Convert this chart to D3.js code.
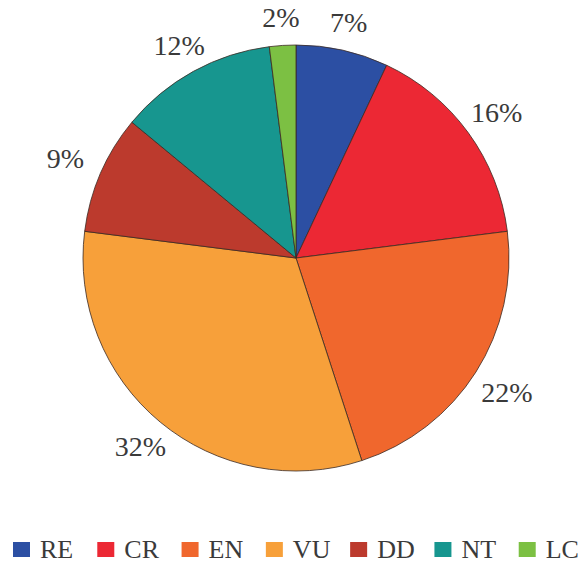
<!DOCTYPE html>
<html>
<head>
    <meta charset="UTF-8" />
    <script src="https://cdn.jsdelivr.net/npm/d3@7/dist/d3.min.js"></script>
    <style>
        body { margin: 0; background: #fff; }
        text { font-family: "Liberation Serif", "Times New Roman", serif; fill: #3a3a3a; }
    </style>
</head>
<body>
    <div id="chart"></div>
    <script>
        const categories = ["RE", "CR", "EN", "VU", "DD", "NT", "LC"];
        const shares = [7, 16, 22, 32, 9, 12, 2];
        const colors = ["#2c4fa3", "#ec2834", "#f0672d", "#f7a03a", "#bc3a2d", "#17968f", "#7cc043"];

        const width = 585, height = 565;
        const cx = 296, cy = 258, radius = 213;
        const labelGap = 18, labelSize = 28;

        const svg = d3.select("#chart").append("svg")
            .attr("width", width)
            .attr("height", height);

        const data = categories.map((c, i) => ({ cat: c, value: shares[i], color: colors[i] }));

        const pie = d3.pie().value(d => d.value).sort(null);
        const arc = d3.arc().innerRadius(0).outerRadius(radius);
        const arcs = pie(data);

        const g = svg.append("g").attr("transform", `translate(${cx},${cy})`);

        g.selectAll("path")
            .data(arcs)
            .join("path")
            .attr("d", arc)
            .attr("fill", d => d.data.color)
            .attr("stroke", "#3b2a22")
            .attr("stroke-width", 0.8)
            .attr("stroke-linejoin", "round");

        // labels sit just outside the rim; distance depends on the text box
        const labels = g.selectAll("text.pct")
            .data(arcs)
            .join("text")
            .attr("class", "pct")
            .attr("text-anchor", "middle")
            .attr("dy", "0.35em")
            .attr("font-size", labelSize)
            .text(d => d.data.value + "%");

        labels.attr("transform", function(d) {
            const a = (d.startAngle + d.endAngle) / 2;
            const hw = this.getComputedTextLength() / 2;
            const hh = labelSize * 0.36;
            const s = Math.abs(Math.sin(a)), c = Math.abs(Math.cos(a));
            const ext = Math.min(s > 1e-6 ? hw / s : Infinity, c > 1e-6 ? hh / c : Infinity);
            const dist = radius + labelGap + ext;
            return `translate(${Math.sin(a) * dist},${-Math.cos(a) * dist})`;
        });

        // legend
        const lx = d3.scaleBand().domain(categories).range([13, 603]);
        const legend = svg.append("g").attr("transform", "translate(0,542)");
        const item = legend.selectAll("g")
            .data(data)
            .join("g")
            .attr("transform", d => `translate(${lx(d.cat)},0)`);
        item.append("rect")
            .attr("width", 17)
            .attr("height", 15)
            .attr("fill", d => d.color);
        item.append("text")
            .attr("x", 27)
            .attr("y", 16)
            .attr("font-size", 26)
            .text(d => d.cat);
    </script>
</body>
</html>
